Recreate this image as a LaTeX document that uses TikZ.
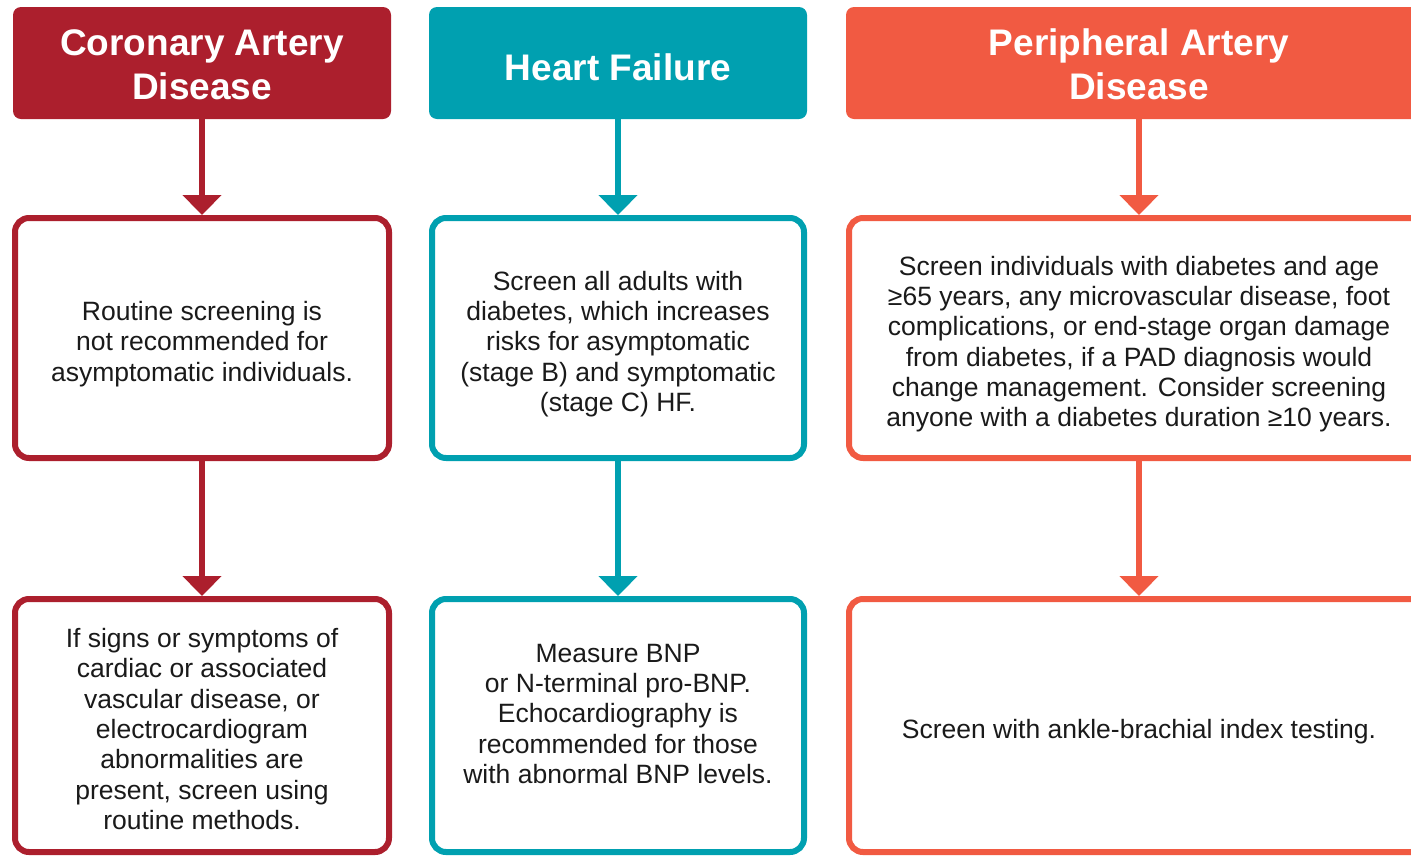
\documentclass[tikz,border=0pt]{standalone}
\usepackage{fontspec}
\setmainfont{Liberation Sans}
\usetikzlibrary{arrows.meta}
\definecolor{cad}{HTML}{AC1F2D}
\definecolor{hf}{HTML}{00A0B0}
\definecolor{pad}{HTML}{F15A42}
\definecolor{ink}{HTML}{1A1A1A}
\tikzset{
  hdr/.style={fill=#1, rounded corners=8pt, inner sep=0pt, outer sep=0pt, minimum height=112pt},
  hdrtext/.style={text=white, font=\fontsize{37}{44}\selectfont\bfseries, align=center, inner sep=0pt},
  card/.style={draw=#1, line width=6pt, rounded corners=14pt, fill=white, inner sep=0pt},
  cardtext/.style={text=ink, font=\fontsize{26.5}{30.3}\selectfont, align=center, inner sep=0pt},
  flow/.style={draw=#1, line width=6pt, -{Triangle[length=20pt,width=38pt]}},
}
\begin{document}
\begin{tikzpicture}[x=1pt,y=-1pt]
\useasboundingbox (0,0) rectangle (1411,855);
% headers
\node[hdr=cad, minimum width=378pt] (h1) at (202,63) {};
\node[hdr=hf,  minimum width=378pt] (h2) at (618,63) {};
\node[hdr=pad, minimum width=586pt] (h3) at (1139,63) {};
\node[hdrtext] (h1t) at (202,64.5) {Coronary Artery\\Disease};
\node[hdrtext] (h2t) at (618,67) {Heart Failure};
\node[hdrtext] (h3t) at (1139,64) {Peripheral Artery\\Disease};
% middle cards
\node[card=cad, minimum width=374pt, minimum height=240pt] (m1) at (202,338) {};
\node[card=hf,  minimum width=372pt, minimum height=240pt] (m2) at (618,338) {};
\node[card=pad, minimum width=580pt, minimum height=240pt] (m3) at (1139,338) {};
\node[cardtext] (m1t) at (202,344) {Routine screening is\\not recommended for\\asymptomatic individuals.};
\node[cardtext] (m2t) at (618,344) {Screen all adults with\\diabetes, which increases\\risks for asymptomatic\\(stage B) and symptomatic\\(stage C) HF.};
\node[cardtext] (m3t) at (1139,344) {Screen individuals with diabetes and age\\ ≥65 years, any microvascular disease, foot\\complications, or end-stage organ damage\\from diabetes, if a PAD diagnosis would\\change management. Consider screening\\anyone with a diabetes duration ≥10 years.};
% bottom cards
\node[card=cad, minimum width=374pt, minimum height=253pt] (b1) at (202,725.5) {};
\node[card=hf,  minimum width=372pt, minimum height=253pt] (b2) at (618,725.5) {};
\node[card=pad, minimum width=580pt, minimum height=253pt] (b3) at (1139,725.5) {};
\node[cardtext] (b1t) at (202,729) {If signs or symptoms of\\cardiac or associated\\vascular disease, or\\electrocardiogram\\abnormalities are\\present, screen using\\routine methods.};
\node[cardtext] (b2t) at (618,714) {Measure BNP\\or N-terminal pro-BNP.\\Echocardiography is\\recommended for those\\with abnormal BNP levels.};
\node[cardtext] (b3t) at (1139,732) {Screen with ankle-brachial index testing.};
% connectors
\draw[flow=cad] (h1.south) -- (m1.north);
\draw[flow=hf]  (h2.south) -- (m2.north);
\draw[flow=pad] (h3.south) -- (m3.north);
\draw[flow=cad] (m1.south) -- (b1.north);
\draw[flow=hf]  (m2.south) -- (b2.north);
\draw[flow=pad] (m3.south) -- (b3.north);
\end{tikzpicture}
\end{document}
